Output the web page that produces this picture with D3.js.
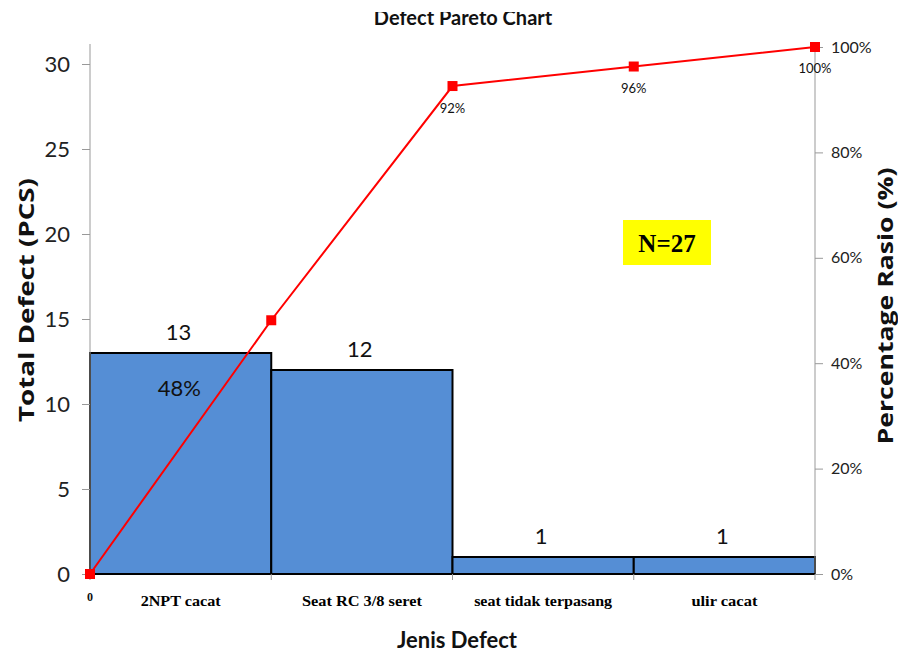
<!DOCTYPE html>
<html>
<head>
<meta charset="utf-8">
<script src="https://cdn.jsdelivr.net/npm/d3@7"></script>
<style>
  html, body { margin: 0; padding: 0; background: #fff; }
  svg { display: block; }
</style>
</head>
<body>
<svg id="chart" width="898" height="655"></svg>
<script>
// Defect categories and counts
const categories = ["2NPT cacat", "Seat RC 3/8 seret", "seat tidak terpasang", "ulir cacat"];
const counts = [13, 12, 1, 1];
// Cumulative share labels (as printed at each point)
const cumLabels = ["0", "48%", "92%", "96%", "100%"];
const leftTicks = [0, 5, 10, 15, 20, 25, 30];
const rightTicks = [0, 0.2, 0.4, 0.6, 0.8, 1.0];

const total = d3.sum(counts);
const cumulative = [0];
counts.forEach((c, i) => cumulative.push(cumulative[i] + c / total));

const svg = d3.select("#chart");
const m = { left: 90, right: 815, top: 47, bottom: 574 };
const font = "Lato, 'Open Sans', sans-serif";

const x = d3.scaleBand().domain(categories).range([m.left, m.right]).padding(0);
const xEdge = d3.scaleLinear().domain([0, categories.length]).range([m.left, m.right]);
const yL = d3.scaleLinear().domain([0, 31]).range([m.bottom, m.top]);
const yR = d3.scaleLinear().domain([0, 1]).range([m.bottom, m.top]);

// Bars
svg.append("g").selectAll("rect").data(counts).join("rect")
  .attr("x", (d, i) => x(categories[i]))
  .attr("y", d => yL(d))
  .attr("width", x.bandwidth())
  .attr("height", d => yL(0) - yL(d))
  .attr("fill", "#558ed5")
  .attr("stroke", "#000")
  .attr("stroke-width", 2);

// Left axis
const gL = svg.append("g").attr("transform", `translate(${m.left},0)`)
  .call(d3.axisLeft(yL).tickValues(leftTicks).tickSize(8).tickPadding(12).tickFormat(d3.format("d")));
gL.select(".domain").attr("stroke", "#999").attr("d", `M0,${m.top - 3}V${m.bottom}`);
gL.selectAll(".tick line").attr("stroke", "#999");
gL.selectAll(".tick text").attr("font-family", font).attr("font-size", 22).attr("fill", "#222");

// Right axis
const gR = svg.append("g").attr("transform", `translate(${m.right},0)`)
  .call(d3.axisRight(yR).tickValues(rightTicks).tickSize(8).tickPadding(8).tickFormat(d3.format(".0%")));
gR.select(".domain").attr("stroke", "#999").attr("d", `M0,${m.top}V${m.bottom}`);
gR.selectAll(".tick line").attr("stroke", "#999");
gR.selectAll(".tick text").attr("font-family", font).attr("font-size", 16).attr("fill", "#222");

// Bottom axis line with category-boundary ticks
const gB = svg.append("g");
gB.append("line").attr("x1", m.left).attr("x2", m.right).attr("y1", m.bottom).attr("y2", m.bottom)
  .attr("stroke", "#000").attr("stroke-width", 2);
gB.selectAll("line.tk").data(d3.range(categories.length + 1)).join("line")
  .attr("class", "tk")
  .attr("x1", d => xEdge(d)).attr("x2", d => xEdge(d))
  .attr("y1", m.bottom).attr("y2", m.bottom + 6)
  .attr("stroke", "#999");
gB.selectAll("text.cat").data(categories).join("text")
  .attr("class", "cat")
  .attr("x", d => x(d) + x.bandwidth() / 2)
  .attr("y", 606)
  .attr("text-anchor", "middle")
  .attr("font-family", "'Liberation Serif', serif")
  .attr("font-weight", "bold")
  .attr("font-size", 15)
  .attr("textLength", (d, i) => [80, 120, 138, 66][i])
  .attr("lengthAdjust", "spacingAndGlyphs")
  .text(d => d);

// Bar value labels
svg.append("g").selectAll("text").data(counts).join("text")
  .attr("x", (d, i) => x(categories[i]) + x.bandwidth() / 2 - 2)
  .attr("y", d => yL(d) - 13)
  .attr("text-anchor", "middle")
  .attr("font-family", font)
  .attr("font-size", 22)
  .attr("fill", "#111")
  .text(d => d);

// Cumulative line
const pts = cumulative.map((v, i) => [xEdge(i), yR(v)]);
svg.append("path")
  .attr("d", d3.line()(pts))
  .attr("fill", "none")
  .attr("stroke", "#ff0000")
  .attr("stroke-width", 2);
svg.append("g").selectAll("rect").data(pts).join("rect")
  .attr("x", d => d[0] - 5).attr("y", d => d[1] - 5)
  .attr("width", 10).attr("height", 10)
  .attr("fill", "#ff0000");

// Cumulative labels
const lblPos = [
  { dx: 0, dy: 27, size: 12, fam: "'Liberation Serif', serif", weight: "bold" },
  { dx: -92, dy: 76, size: 22, fam: font, weight: "normal" },
  { dx: 0, dy: 27, size: 13, fam: font, weight: "normal" },
  { dx: 0, dy: 26, size: 13, fam: font, weight: "normal" },
  { dx: 0, dy: 26, size: 13, fam: font, weight: "normal" }
];
svg.append("g").selectAll("text").data(pts).join("text")
  .attr("x", (d, i) => d[0] + lblPos[i].dx)
  .attr("y", (d, i) => d[1] + lblPos[i].dy)
  .attr("text-anchor", "middle")
  .attr("font-family", (d, i) => lblPos[i].fam)
  .attr("font-weight", (d, i) => lblPos[i].weight)
  .attr("font-size", (d, i) => lblPos[i].size)
  .attr("fill", "#111")
  .text((d, i) => cumLabels[i]);

// Sample size box
svg.append("rect").attr("x", 623).attr("y", 220).attr("width", 88).attr("height", 45).attr("fill", "#ffff00");
svg.append("text").attr("x", 667).attr("y", 252).attr("text-anchor", "middle")
  .attr("font-family", "'Liberation Serif', serif").attr("font-weight", "bold").attr("font-size", 25)
  .text("N=" + total);

// Title (top edge trimmed)
svg.append("clipPath").attr("id", "titleClip")
  .append("rect").attr("x", 0).attr("y", 12).attr("width", 898).attr("height", 30);
svg.append("text").attr("x", 463).attr("y", 25).attr("text-anchor", "middle")
  .attr("clip-path", "url(#titleClip)")
  .attr("font-family", font).attr("font-weight", "bold").attr("font-size", 20)
  .attr("fill", "#111")
  .text("Defect Pareto Chart");

// Axis titles
svg.append("text").attr("transform", "translate(34,300) rotate(-90)")
  .attr("text-anchor", "middle").attr("font-family", "'Open Sans', sans-serif").attr("font-weight", "bold")
  .attr("font-size", 21).attr("fill", "#111")
  .attr("textLength", 244).attr("lengthAdjust", "spacingAndGlyphs")
  .text("Total Defect (PCS)");
svg.append("text").attr("transform", "translate(893,306) rotate(-90)")
  .attr("text-anchor", "middle").attr("font-family", "'Open Sans', sans-serif").attr("font-weight", "bold")
  .attr("font-size", 21).attr("fill", "#111")
  .attr("textLength", 277).attr("lengthAdjust", "spacingAndGlyphs")
  .text("Percentage Rasio (%)");
svg.append("text").attr("x", 457).attr("y", 648)
  .attr("text-anchor", "middle").attr("font-family", font).attr("font-weight", "bold")
  .attr("font-size", 22).attr("fill", "#111")
  .attr("textLength", 120).attr("lengthAdjust", "spacingAndGlyphs")
  .text("Jenis Defect");
</script>
</body>
</html>
